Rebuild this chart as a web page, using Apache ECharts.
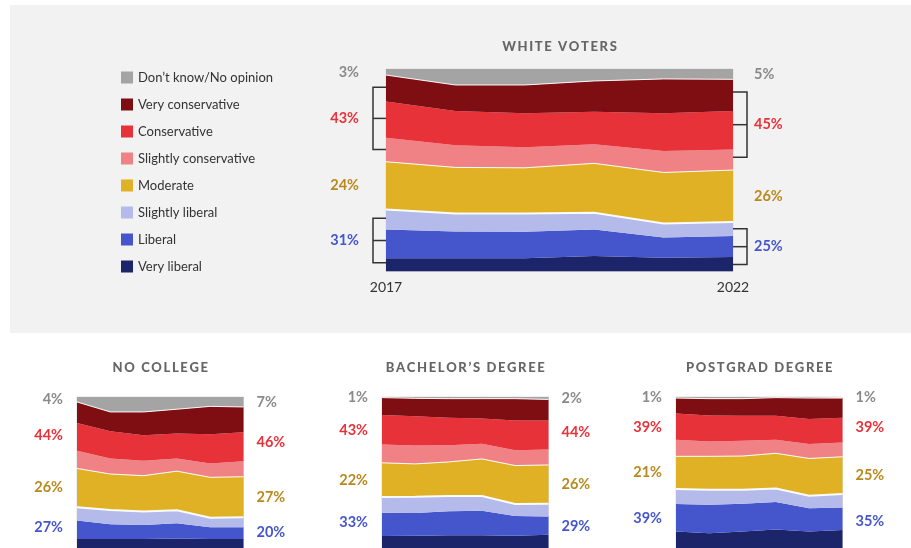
<!DOCTYPE html>
<html>
<head>
<meta charset="utf-8">
<script src="https://cdn.jsdelivr.net/npm/echarts@6/dist/echarts.min.js"></script>
<style>
  html, body { margin: 0; padding: 0; background: #fff; }
  #chart { width: 911px; height: 548px; }
</style>
</head>
<body>
<div id="chart"></div>
<script>
// years along the x axis
const years = ['2017', '2018', '2019', '2020', '2021', '2022'];
// stack order, bottom to top
const categories = ['Very liberal', 'Liberal', 'Slightly liberal', 'Moderate',
  'Slightly conservative', 'Conservative', 'Very conservative', 'Don’t know/No opinion'];

// shares (%) per category, rows follow `categories`
const whiteVoters = [
  [6.6, 6.6, 6.6, 7.7, 6.8, 7.2],
  [14.2, 13.2, 13.0, 13.1, 10.0, 10.3],
  [9.8, 8.9, 9.1, 8.2, 6.9, 7.0],
  [23.6, 22.7, 22.5, 24.4, 25.2, 25.6],
  [11.9, 10.9, 10.1, 9.4, 10.6, 10.2],
  [17.8, 16.9, 16.8, 16.1, 18.6, 18.9],
  [13.1, 12.9, 14.0, 15.2, 17.0, 15.7],
  [3.0, 7.9, 7.9, 5.9, 4.9, 5.1]
];
const noCollege = [
  [6.0, 6.0, 6.0, 6.3, 6.0, 6.0],
  [12.2, 9.7, 9.3, 10.1, 7.7, 7.7],
  [8.8, 9.5, 8.8, 8.6, 6.4, 6.7],
  [25.7, 23.8, 23.8, 25.9, 26.7, 26.8],
  [11.7, 10.3, 9.9, 8.4, 9.2, 10.3],
  [18.4, 18.0, 16.9, 16.5, 19.4, 19.2],
  [13.9, 12.8, 15.4, 16.1, 18.4, 16.7],
  [3.3, 9.9, 9.9, 8.1, 6.2, 6.6]
];
const bachelors = [
  [7.9, 8.1, 8.5, 8.5, 8.1, 8.7],
  [15.5, 15.0, 15.8, 16.2, 13.1, 12.2],
  [10.4, 10.9, 10.1, 9.7, 7.9, 8.4],
  [22.6, 21.7, 22.6, 24.6, 25.5, 25.7],
  [12.1, 12.2, 11.1, 10.0, 10.2, 10.2],
  [19.5, 19.3, 18.2, 16.8, 19.7, 19.3],
  [11.6, 11.9, 12.6, 13.1, 14.4, 13.9],
  [0.4, 0.9, 1.1, 1.1, 1.1, 1.6]
];
const postgrad = [
  [10.9, 9.8, 10.9, 12.3, 10.9, 12.0],
  [18.2, 18.8, 18.4, 18.1, 15.5, 14.9],
  [9.9, 10.0, 9.3, 9.0, 8.2, 8.8],
  [21.7, 22.1, 22.3, 23.3, 24.7, 24.7],
  [11.0, 9.9, 10.1, 9.0, 9.5, 9.5],
  [17.3, 17.2, 16.6, 15.9, 16.6, 16.4],
  [10.3, 11.1, 11.3, 12.0, 13.9, 13.0],
  [0.7, 1.1, 1.1, 0.4, 0.7, 0.7]
];

// side labels: don't know, conservative, moderate, liberal
const whiteLeft = ['3%', '43%', '24%', '31%'];
const whiteRight = ['5%', '45%', '26%', '25%'];
const noCollegeLeft = ['4%', '44%', '26%', '27%'];
const noCollegeRight = ['7%', '46%', '27%', '20%'];
const bachelorsLeft = ['1%', '43%', '22%', '33%'];
const bachelorsRight = ['2%', '44%', '26%', '29%'];
const postgradLeft = ['1%', '39%', '21%', '39%'];
const postgradRight = ['1%', '39%', '25%', '35%'];

const colors = ['#1c246a', '#4556cc', '#b4baea', '#e0b124', '#f08286', '#e8323a', '#7f0e12', '#a4a4a4'];
const labelColors = ['#8a8a8a', '#e8323a', '#b8891d', '#4556cc'];
const groups = [[7], [4, 5, 6], [3], [0, 1, 2]];
// white separator lines on top of these series
const sepWidth = { 2: 2, 3: 1, 6: 1 };
const FONT = 'Lato, "Open Sans", sans-serif';

const panels = [
  { title: 'WHITE VOTERS', data: whiteVoters, left: whiteLeft, right: whiteRight,
    rect: [386, 69, 347, 202.5], titleY: 47, gap: [27, 21], brackets: true },
  { title: 'NO COLLEGE', data: noCollege, left: noCollegeLeft, right: noCollegeRight,
    rect: [77, 397, 166.5, 151.5], titleY: 368, gap: [14, 13] },
  { title: 'BACHELOR’S DEGREE', data: bachelors, left: bachelorsLeft, right: bachelorsRight,
    rect: [382, 397, 166.5, 151.5], titleY: 368, gap: [14, 13] },
  { title: 'POSTGRAD DEGREE', data: postgrad, left: postgradLeft, right: postgradRight,
    rect: [676, 397, 166.5, 151.5], titleY: 368, gap: [14, 13] }
];

// titles are letter-spaced in the original
const spaced = s => s.split('').join('\u200A\u200A');

const chart = echarts.init(document.getElementById('chart'));

const grid = [], xAxis = [], yAxis = [], series = [];
panels.forEach((p, i) => {
  grid.push({
    left: p.rect[0], top: p.rect[1], width: p.rect[2], height: p.rect[3],
    show: true, borderColor: '#dedede', borderWidth: 1, backgroundColor: 'transparent'
  });
  xAxis.push({
    type: 'category', gridIndex: i, data: years, boundaryGap: false,
    axisLine: { show: false }, axisTick: { show: false }, splitLine: { show: false },
    axisLabel: i === 0 ? {
      show: true, color: '#333', fontSize: 14, fontFamily: FONT, margin: 9,
      interval: idx => idx === 0 || idx === years.length - 1
    } : { show: false }
  });
  yAxis.push({ type: 'value', gridIndex: i, min: 0, max: 100, show: false });
  p.data.forEach((vals, k) => {
    series.push({
      name: categories[k], type: 'line', xAxisIndex: i, yAxisIndex: i,
      stack: 'panel' + i, data: vals, symbol: 'none', showSymbol: false,
      itemStyle: { color: colors[k] },
      areaStyle: { color: colors[k], opacity: 1 },
      lineStyle: sepWidth[k] ? { color: '#fff', width: sepWidth[k], opacity: 0.95 } : { width: 0 },
      z: k === 2 ? 4 : (sepWidth[k] ? 3 : 2),
      silent: true, emphasis: { disabled: true }
    });
  });
});

chart.setOption({
  backgroundColor: 'transparent',
  animation: false,
  legend: {
    orient: 'vertical', left: 116, top: 66,
    data: categories.slice().reverse(),
    icon: 'rect', itemWidth: 12, itemHeight: 12, itemGap: 14,
    itemStyle: { borderWidth: 0 },
    textStyle: { color: '#333', fontSize: 13, fontFamily: FONT },
    selectedMode: false
  },
  grid, xAxis, yAxis, series
});

// annotations placed through the axes
const graphic = [{
  type: 'rect', shape: { x: 10, y: 5, width: 901, height: 328 },
  style: { fill: '#f2f2f2' }, z: -100, silent: true
}];
panels.forEach((p, i) => {
  const cx = p.rect[0] + p.rect[2] / 2;
  graphic.push({
    type: 'text', z: 100, silent: true,
    style: { text: spaced(p.title), x: cx, y: p.titleY, align: 'center', verticalAlign: 'middle',
      fill: '#666', font: '900 13px ' + FONT }
  });
  [0, years.length - 1].forEach(col => {
    const isLeft = col === 0;
    const texts = isLeft ? p.left : p.right;
    groups.forEach((g, gi) => {
      let base = 0;
      for (let k = 0; k < g[0]; k++) base += p.data[k][col];
      let size = 0;
      g.forEach(k => { size += p.data[k][col]; });
      const mid = base + size / 2;
      const [xe, ym] = chart.convertToPixel({ gridIndex: i }, [col, mid]);
      graphic.push({
        type: 'text', z: 100, silent: true,
        style: {
          text: texts[gi], x: isLeft ? xe - p.gap[0] : xe + p.gap[1], y: ym,
          align: isLeft ? 'right' : 'left', verticalAlign: 'middle',
          fill: labelColors[gi], font: 'bold 14.5px ' + FONT
        }
      });
      if (p.brackets && (gi === 1 || gi === 3)) {
        const ya = chart.convertToPixel({ gridIndex: i }, [col, mid + size * 0.36])[1];
        const yb = chart.convertToPixel({ gridIndex: i }, [col, mid - size * 0.36])[1];
        const xv = isLeft ? xe - 13 : xe + 14;
        const bs = { stroke: '#333', lineWidth: 1.5, fill: null };
        graphic.push({ type: 'polyline', z: 100, silent: true, style: bs,
          shape: { points: [[xe, ya], [xv, ya], [xv, yb], [xe, yb]] } });
        graphic.push({ type: 'polyline', z: 100, silent: true, style: bs,
          shape: { points: [[xv, ym], [xe, ym]] } });
      }
    });
  });
});
chart.setOption({ graphic });
</script>
</body>
</html>
